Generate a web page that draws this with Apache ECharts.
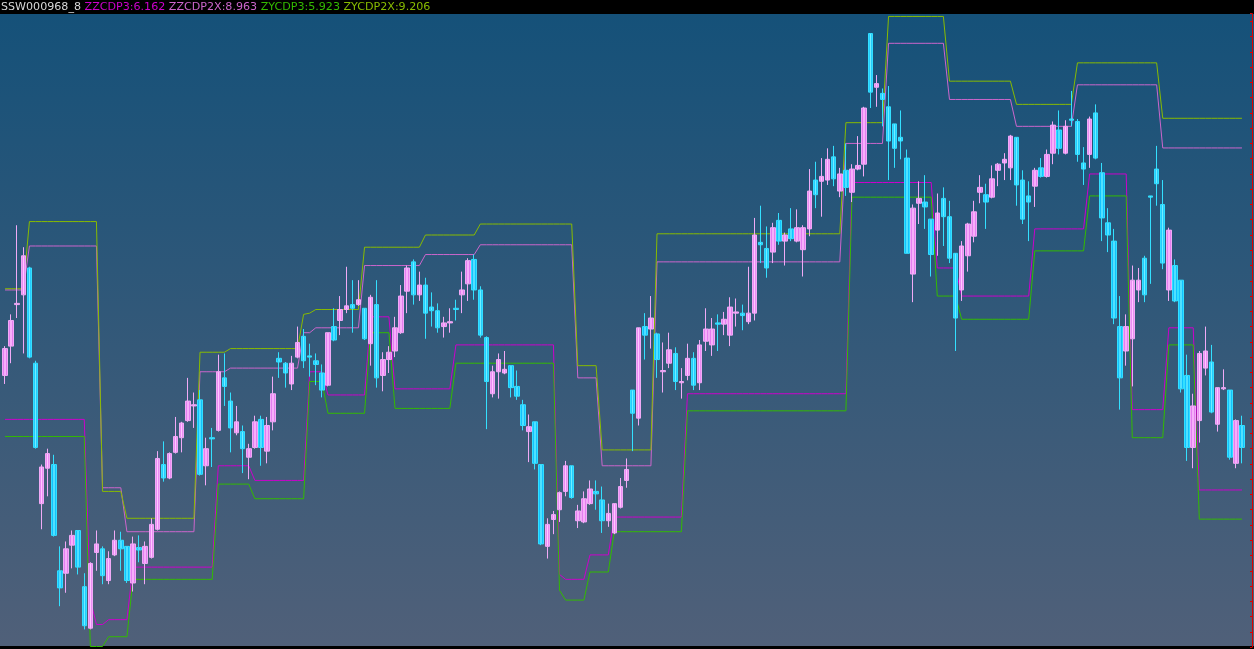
<!DOCTYPE html>
<html><head><meta charset="utf-8">
<script src="https://cdn.jsdelivr.net/npm/echarts@6/dist/echarts.min.js"></script>
<style>html,body{margin:0;padding:0;background:#000;}#c{width:1254px;height:649px;}</style>
</head><body><div id="c"></div>
<script>
// [open, close, low, high]
const candles = [
[7.10,7.32,7.03,7.34],[7.34,7.55,7.20,7.60],[7.68,7.69,7.57,8.33],[7.76,8.08,7.28,8.15],[7.98,7.25,7.24,7.99],
[7.20,6.51,6.50,7.22],[6.05,6.35,5.84,6.37],[6.34,6.46,6.11,6.50],[6.37,5.79,5.78,6.45],[5.50,5.36,5.21,5.70],
[5.48,5.68,5.32,5.74],[5.71,5.79,5.52,5.83],[5.83,5.53,5.47,5.83],[5.37,5.05,5.02,5.48],[5.03,5.56,5.02,5.57],
[5.65,5.72,5.50,5.83],[5.68,5.46,5.39,5.70],[5.42,5.60,5.39,5.66],[5.63,5.75,5.62,5.83],[5.75,5.68,5.50,5.82],
[5.70,5.42,5.40,5.70],[5.40,5.72,5.33,5.78],[5.69,5.67,5.57,5.79],[5.56,5.70,5.39,5.74],[5.61,5.88,5.60,5.93],
[5.84,6.42,5.83,6.48],[6.37,6.26,6.23,6.56],[6.26,6.46,6.25,6.47],[6.47,6.60,6.46,6.76],[6.59,6.71,6.47,6.72],
[6.73,6.89,6.72,7.08],[6.85,6.86,6.67,6.96],[6.90,6.29,6.28,6.98],[6.36,6.50,6.20,6.59],[6.59,6.58,6.35,6.67],
[6.65,7.13,6.64,7.27],[7.08,7.01,6.85,7.28],[6.89,6.67,6.47,6.96],[6.63,6.72,6.61,6.85],[6.64,6.50,6.30,6.69],
[6.43,6.50,6.25,6.54],[6.51,6.72,6.50,6.77],[6.74,6.51,6.36,6.77],[6.48,6.69,6.38,6.76],[6.72,6.95,6.65,7.09],
[7.24,7.21,7.08,7.29],[7.20,7.12,7.00,7.21],[7.03,7.20,6.98,7.26],[7.25,7.37,7.24,7.50],[7.42,7.22,7.16,7.48],
[7.26,7.25,7.09,7.36],[7.22,7.19,7.02,7.28],[7.12,6.98,6.92,7.19],[7.02,7.45,7.01,7.45],[7.50,7.39,7.38,7.65],
[7.55,7.64,7.43,7.75],[7.64,7.67,7.61,7.99],[7.68,7.65,7.45,7.88],[7.68,7.72,7.67,7.88],[7.65,7.40,7.39,7.65],
[7.36,7.74,7.18,7.76],[7.68,7.08,7.00,7.88],[7.10,7.23,6.97,7.29],[7.23,7.29,7.12,7.34],[7.30,7.49,7.25,7.58],
[7.45,7.75,7.44,7.84],[7.79,7.98,7.61,8.00],[8.03,7.76,7.68,8.05],[7.76,7.84,7.71,7.95],[7.84,7.61,7.40,7.90],
[7.66,7.63,7.50,7.78],[7.63,7.49,7.45,7.69],[7.50,7.53,7.41,7.58],[7.53,7.54,7.45,7.65],[7.65,7.64,7.55,7.72],
[7.76,7.80,7.61,7.95],[7.85,8.04,7.71,8.06],[8.05,7.80,7.72,8.09],[7.80,7.43,7.41,7.83],[7.41,7.05,6.66,7.42],
[6.95,7.13,6.92,7.18],[7.13,7.23,6.91,7.28],[7.12,7.15,7.11,7.30],[7.18,7.00,6.92,7.18],[7.01,6.93,6.90,7.14],
[6.86,6.69,6.65,6.90],[6.64,6.68,6.39,6.78],[6.72,6.38,6.33,6.72],[6.37,5.72,5.71,6.37],[5.70,5.88,5.60,5.93],
[5.92,5.96,5.80,5.99],[6.00,6.14,5.90,6.15],[6.15,6.36,6.11,6.40],[6.36,6.10,6.09,6.36],[5.91,5.99,5.85,6.04],
[5.90,6.09,5.89,6.15],[6.05,6.17,6.04,6.24],[6.15,6.13,6.00,6.24],[6.08,5.91,5.81,6.19],[5.91,5.97,5.86,6.05],
[5.81,6.05,5.80,6.05],[6.02,6.19,6.01,6.26],[6.24,6.33,6.18,6.42],[6.98,6.79,6.48,6.98],[6.75,7.49,6.69,7.49],
[7.50,7.43,7.23,7.61],[7.48,7.57,7.32,7.75],[7.44,7.23,7.08,7.45],[7.13,7.14,6.96,7.37],[7.20,7.31,7.16,7.45],
[7.28,7.05,6.98,7.33],[7.04,7.05,6.91,7.16],[7.10,7.24,7.06,7.36],[7.24,7.02,6.98,7.29],[7.04,7.35,6.98,7.39],
[7.38,7.48,7.30,7.65],[7.35,7.48,7.26,7.57],[7.53,7.52,7.30,7.60],[7.52,7.56,7.43,7.62],[7.43,7.66,7.34,7.74],
[7.61,7.62,7.50,7.73],[7.61,7.59,7.47,7.68],[7.54,7.61,7.52,7.99],[7.61,8.25,7.55,8.39],[8.19,8.17,8.02,8.49],
[8.14,7.98,7.90,8.32],[8.11,8.31,8.02,8.35],[8.37,8.20,8.17,8.43],[8.20,8.25,8.00,8.27],[8.30,8.22,8.20,8.47],
[8.20,8.31,8.19,8.46],[8.13,8.31,7.91,8.33],[8.30,8.61,8.24,8.79],[8.70,8.58,8.47,8.85],[8.69,8.73,8.40,8.88],
[8.70,8.87,8.66,8.96],[8.89,8.71,8.65,8.98],[8.61,8.75,8.56,8.80],[8.78,8.64,8.57,9.00],[8.60,8.79,8.52,8.83],
[8.79,8.82,8.78,9.06],[8.83,9.29,8.73,9.30],[9.90,9.42,9.29,9.90],[9.46,9.49,9.30,9.56],[9.41,9.36,9.14,9.45],
[9.30,9.02,8.70,9.47],[9.16,8.96,8.80,9.16],[9.05,9.02,8.87,9.27],[8.88,8.10,8.10,8.95],[7.93,8.47,7.70,8.50],
[8.51,8.55,8.34,8.69],[8.52,8.48,8.30,8.74],[8.38,8.09,7.91,8.38],[8.29,8.43,8.08,8.59],[8.55,8.40,8.16,8.64],
[8.40,8.06,8.02,8.53],[8.10,7.57,7.30,8.10],[7.80,8.16,7.71,8.20],[8.08,8.34,7.95,8.35],[8.24,8.44,8.19,8.53],
[8.60,8.64,8.51,8.74],[8.58,8.52,8.30,8.67],[8.56,8.71,8.55,8.82],[8.78,8.83,8.65,8.84],[8.84,8.87,8.70,8.92],
[8.80,9.06,8.70,9.07],[9.05,8.66,8.49,9.05],[8.70,8.38,8.34,8.78],[8.57,8.52,8.20,8.69],[8.65,8.78,8.48,8.80],
[8.80,8.73,8.72,8.88],[8.73,8.91,8.72,8.95],[8.92,9.15,8.83,9.18],[9.11,8.96,8.91,9.27],[8.92,9.14,8.91,9.19],
[9.20,9.19,9.14,9.43],[9.18,8.91,8.85,9.20],[8.84,8.79,8.66,8.97],[8.91,9.20,8.80,9.22],[9.25,8.88,8.87,9.32],
[8.76,8.39,8.20,8.84],[8.35,8.25,8.11,8.47],[8.20,7.57,7.52,8.30],[7.50,7.08,6.82,7.75],[7.30,7.50,7.18,7.60],
[7.40,7.88,7.01,8.00],[7.80,7.88,7.70,7.98],[8.06,7.76,7.70,8.08],[8.57,8.56,7.85,8.57],[8.79,8.67,8.49,8.98],
[8.50,8.02,7.97,8.70],[7.80,8.29,7.71,8.31],[8.00,7.71,7.70,8.05],[7.88,6.99,6.96,7.88],[7.10,6.51,6.40,7.27],
[6.51,6.85,6.34,6.95],[6.73,7.28,6.55,7.30],[7.16,7.30,7.10,7.50],[7.21,6.80,6.79,7.35],[6.70,7.00,6.64,7.00],
[6.99,7.00,6.98,7.15],[6.98,6.43,6.41,6.98],[6.38,6.73,6.34,6.74],[6.69,6.51,6.38,6.77]
];

const zzcdp3 = [
6.74,6.74,6.74,6.74,6.74,6.74,6.74,6.74,6.74,6.74,6.74,6.74,6.74,6.74,
5.26,
5.06,5.06,
5.10,5.10,5.10,5.10,
5.53,5.53,5.53,5.53,5.53,5.53,5.53,5.53,5.53,5.53,5.53,5.53,5.53,5.53,
6.36,6.36,6.36,6.36,6.36,6.36,
6.24,6.24,6.24,6.24,6.24,6.24,6.24,6.24,6.24,
7.13,7.13,7.13,
6.94,6.94,6.94,6.94,6.94,6.94,6.94,
7.58,7.58,7.58,7.58,
6.99,6.99,6.99,6.99,6.99,6.99,6.99,6.99,6.99,6.99,
7.35,7.35,7.35,7.35,7.35,7.35,7.35,7.35,7.35,7.35,7.35,7.35,7.35,7.35,7.35,7.35,7.35,
5.47,
5.43,5.43,5.43,5.43,
5.63,5.63,5.63,5.63,
5.94,5.94,5.94,5.94,5.94,5.94,5.94,5.94,5.94,5.94,5.94,5.94,
6.95,6.95,6.95,6.95,6.95,6.95,6.95,6.95,6.95,6.95,6.95,6.95,6.95,6.95,6.95,6.95,6.95,6.95,6.95,6.95,6.95,6.95,6.95,6.95,6.95,6.95,6.95,
8.68,8.68,8.68,8.68,8.68,8.68,8.68,8.68,8.68,8.68,8.68,8.68,8.68,8.68,
7.98,7.98,7.98,7.98,
7.75,7.75,7.75,7.75,7.75,7.75,7.75,7.75,7.75,7.75,7.75,7.75,
8.30,8.30,8.30,8.30,8.30,8.30,8.30,8.30,8.30,
8.75,8.75,8.75,8.75,8.75,8.75,8.75,
6.82,6.82,6.82,6.82,6.82,6.82,
7.49,7.49,7.49,7.49,7.49,
6.162,6.162,6.162,6.162,6.162,6.162,6.162,6.162
];

const zzcdp2x = [
7.80,7.80,7.80,7.80,
8.16,8.16,8.16,8.16,8.16,8.16,8.16,8.16,8.16,8.16,8.16,8.16,
6.18,6.18,6.18,6.18,
5.82,5.82,5.82,5.82,5.82,5.82,5.82,5.82,5.82,5.82,5.82,5.82,
7.13,7.13,7.13,7.13,7.13,
7.16,7.16,7.16,7.16,7.16,7.16,7.16,7.16,7.16,7.16,7.16,7.16,
7.45,7.45,
7.49,7.49,7.49,7.49,7.49,7.49,7.49,7.49,
8.00,8.00,8.00,8.00,8.00,8.00,8.00,8.00,8.00,8.00,
8.09,8.09,8.09,8.09,8.09,8.09,8.09,8.09,8.09,
8.17,8.17,8.17,8.17,8.17,8.17,8.17,8.17,8.17,8.17,8.17,8.17,8.17,8.17,8.17,8.17,
7.08,7.08,7.08,7.08,
6.36,6.36,6.36,6.36,6.36,6.36,6.36,6.36,6.36,
8.03,8.03,8.03,8.03,8.03,8.03,8.03,8.03,8.03,8.03,8.03,8.03,8.03,8.03,8.03,8.03,8.03,8.03,8.03,8.03,8.03,8.03,8.03,8.03,8.03,8.03,8.03,8.03,8.03,8.03,8.03,
9.00,9.00,9.00,9.00,9.00,9.00,9.00,
9.82,9.82,9.82,9.82,9.82,9.82,9.82,9.82,9.82,9.82,
9.36,9.36,9.36,9.36,9.36,9.36,9.36,9.36,9.36,9.36,9.36,
9.14,9.14,9.14,9.14,9.14,9.14,9.14,9.14,9.14,9.14,
9.48,9.48,9.48,9.48,9.48,9.48,9.48,9.48,9.48,9.48,9.48,9.48,9.48,9.48,
8.963,8.963,8.963,8.963,8.963,8.963,8.963,8.963,8.963,8.963,8.963,8.963,8.963,8.963
];

const zycdp3 = [
6.60,6.60,6.60,6.60,6.60,6.60,6.60,6.60,6.60,6.60,6.60,6.60,6.60,6.60,
4.88,4.88,4.88,
4.96,4.96,4.96,4.96,
5.43,5.43,5.43,5.43,5.43,5.43,5.43,5.43,5.43,5.43,5.43,5.43,5.43,5.43,
6.21,6.21,6.21,6.21,6.21,6.21,
6.09,6.09,6.09,6.09,6.09,6.09,6.09,6.09,6.09,
7.05,7.05,7.05,
6.79,6.79,6.79,6.79,6.79,6.79,6.79,
7.45,7.45,7.45,7.45,
6.83,6.83,6.83,6.83,6.83,6.83,6.83,6.83,6.83,6.83,
7.20,7.20,7.20,7.20,7.20,7.20,7.20,7.20,7.20,7.20,7.20,7.20,7.20,7.20,7.20,7.20,7.20,
5.34,
5.26,5.26,5.26,5.26,
5.49,5.49,5.49,5.49,
5.82,5.82,5.82,5.82,5.82,5.82,5.82,5.82,5.82,5.82,5.82,5.82,
6.81,6.81,6.81,6.81,6.81,6.81,6.81,6.81,6.81,6.81,6.81,6.81,6.81,6.81,6.81,6.81,6.81,6.81,6.81,6.81,6.81,6.81,6.81,6.81,6.81,6.81,6.81,
8.56,8.56,8.56,8.56,8.56,8.56,8.56,8.56,8.56,8.56,8.56,8.56,8.56,8.56,
7.75,7.75,7.75,7.75,
7.56,7.56,7.56,7.56,7.56,7.56,7.56,7.56,7.56,7.56,7.56,7.56,
8.12,8.12,8.12,8.12,8.12,8.12,8.12,8.12,8.12,
8.57,8.57,8.57,8.57,8.57,8.57,8.57,
6.59,6.59,6.59,6.59,6.59,6.59,
7.35,7.35,7.35,7.35,7.35,
5.923,5.923,5.923,5.923,5.923,5.923,5.923,5.923
];

const zycdp2x = [
7.81,7.81,7.81,7.81,
8.36,8.36,8.36,8.36,8.36,8.36,8.36,8.36,8.36,8.36,8.36,8.36,
6.15,6.15,6.15,6.15,
5.93,5.93,5.93,5.93,5.93,5.93,5.93,5.93,5.93,5.93,5.93,5.93,
7.29,7.29,7.29,7.29,7.29,
7.32,7.32,7.32,7.32,7.32,7.32,7.32,7.32,7.32,7.32,7.32,7.32,
7.60,
7.61,
7.64,7.64,7.64,7.64,7.64,7.64,7.64,7.64,
8.15,8.15,8.15,8.15,8.15,8.15,8.15,8.15,8.15,8.15,
8.25,8.25,8.25,8.25,8.25,8.25,8.25,8.25,8.25,
8.34,8.34,8.34,8.34,8.34,8.34,8.34,8.34,8.34,8.34,8.34,8.34,8.34,8.34,8.34,8.34,
7.18,7.18,7.18,7.18,
6.49,6.49,6.49,6.49,6.49,6.49,6.49,6.49,6.49,
8.26,8.26,8.26,8.26,8.26,8.26,8.26,8.26,8.26,8.26,8.26,8.26,8.26,8.26,8.26,8.26,8.26,8.26,8.26,8.26,8.26,8.26,8.26,8.26,8.26,8.26,8.26,8.26,8.26,8.26,8.26,
9.17,9.17,9.17,9.17,9.17,9.17,9.17,
10.04,10.04,10.04,10.04,10.04,10.04,10.04,10.04,10.04,10.04,
9.51,9.51,9.51,9.51,9.51,9.51,9.51,9.51,9.51,9.51,9.51,
9.32,9.32,9.32,9.32,9.32,9.32,9.32,9.32,9.32,9.32,
9.66,9.66,9.66,9.66,9.66,9.66,9.66,9.66,9.66,9.66,9.66,9.66,9.66,9.66,
9.206,9.206,9.206,9.206,9.206,9.206,9.206,9.206,9.206,9.206,9.206,9.206,9.206,9.206
];

const titleName = 'SSW000968_8';
const lastValues = { ZZCDP3: '6.162', ZZCDP2X: '8.963', ZYCDP3: '5.923', ZYCDP2X: '9.206' };

const categories = candles.map((_, i) => String(i + 1));

const chart = echarts.init(document.getElementById('c'), null, { renderer: 'canvas' });

const G = echarts.graphic.LinearGradient;
const upFill = new G(0, 0, 1, 0, [
  { offset: 0, color: '#c058d8' }, { offset: 0.25, color: '#e47ef0' },
  { offset: 0.5, color: '#ffc8ff' }, { offset: 0.75, color: '#e47ef0' }, { offset: 1, color: '#c058d8' }]);
const downFill = new G(0, 0, 1, 0, [
  { offset: 0, color: '#0a80e8' }, { offset: 0.25, color: '#12c2ff' },
  { offset: 0.5, color: '#70f0ff' }, { offset: 0.75, color: '#12c2ff' }, { offset: 1, color: '#0a80e8' }]);

function lineSeries(name, data, color) {
  return {
    name, type: 'line', data, symbol: 'none', silent: true, z: 2,
    lineStyle: { width: 1, color }, itemStyle: { color }
  };
}

const fontBase = { fontSize: 11.1, fontFamily: 'DejaVu Sans', lineHeight: 12 };

chart.setOption({
  animation: false,
  backgroundColor: '#000000',
  graphic: [{
    type: 'rect', z: -10, silent: true,
    shape: { x: 0, y: 14, width: 1254, height: 632 },
    style: { fill: new G(0, 0, 0, 1, [{ offset: 0, color: '#155179' }, { offset: 1, color: '#506079' }]) }
  }],
  title: {
    left: 1, top: 1, padding: 0,
    text: '{a|' + titleName + '} {b|ZZCDP3:' + lastValues.ZZCDP3 + '} {c|ZZCDP2X:' + lastValues.ZZCDP2X +
      '} {d|ZYCDP3:' + lastValues.ZYCDP3 + '} {e|ZYCDP2X:' + lastValues.ZYCDP2X + '}',
    textStyle: Object.assign({ fontWeight: 'normal', color: '#d8d8d8' }, fontBase, {
      rich: {
        a: Object.assign({ color: '#d8d8d8' }, fontBase),
        b: Object.assign({ color: '#cc00cc' }, fontBase),
        c: Object.assign({ color: '#cc66cc' }, fontBase),
        d: Object.assign({ color: '#33bb00' }, fontBase),
        e: Object.assign({ color: '#88bb00' }, fontBase)
      }
    })
  },
  grid: { left: 2, top: 13.7, width: 1243, height: 633.4 },
  xAxis: { type: 'category', data: categories, show: false, boundaryGap: true },
  yAxis: {
    type: 'value', min: 4.875, max: 10.0625, interval: 0.125, position: 'right', offset: 7,
    axisLine: { show: true, lineStyle: { color: '#dd0000', width: 1 } },
    axisTick: { show: true, inside: true, length: 2, lineStyle: { color: '#dd0000' } },
    axisLabel: { show: false }, splitLine: { show: false }
  },
  series: [
    lineSeries('ZZCDP3', zzcdp3, '#cc00cc'),
    lineSeries('ZZCDP2X', zzcdp2x, '#cc66cc'),
    lineSeries('ZYCDP3', zycdp3, '#33bb00'),
    lineSeries('ZYCDP2X', zycdp2x, '#88bb00'),
    {
      name: titleName, type: 'candlestick', data: candles, barWidth: 5, z: 3, silent: true,
      itemStyle: {
        color: upFill, color0: downFill,
        borderColor: '#f0aaf6', borderColor0: '#33e0ff', borderWidth: 1
      }
    }
  ]
});
</script>
</body></html>
